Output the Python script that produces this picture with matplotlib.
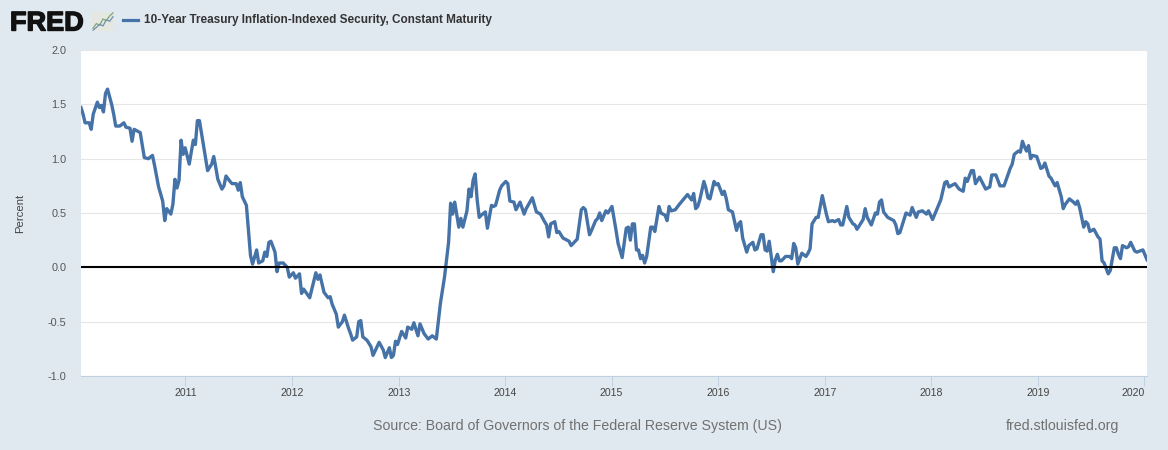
#!/usr/bin/env python3

import pandas as pd
import matplotlib.pyplot as plt
import matplotlib.patheffects as pe

plt.rcParams["font.family"] = ["Liberation Sans", "DejaVu Sans"]

# weeks since the first observation, percent at that week
weeks = [0, 1, 2, 4, 5, 6, 8, 9, 10, 11, 12, 13, 15, 16, 17, 19, 21, 22, 24, 25,
         26, 28, 29, 31, 33, 35, 36, 38, 40, 41, 42, 44, 45, 46, 47, 48, 49, 50, 51, 53,
         55, 56, 57, 58, 60, 61, 62, 64, 65, 66, 67, 69, 70, 71, 73, 74, 76, 77, 78, 79,
         81, 82, 83, 84, 86, 87, 89, 90, 91, 92, 93, 95, 96, 97, 99, 101, 102, 104, 105, 107,
         108, 109, 112, 115, 116, 117, 119, 121, 122, 123, 125, 126, 128, 129, 131, 132, 133, 135, 136, 137,
         138, 140, 142, 143, 146, 148, 149, 151, 152, 153, 154, 155, 157, 159, 160, 162, 163, 165, 166, 168,
         170, 172, 174, 176, 178, 179, 180, 181, 182, 183, 185, 186, 187, 189, 190, 191, 192, 193, 194, 195,
         196, 198, 199, 201, 202, 203, 205, 206, 208, 209, 210, 212, 213, 215, 217, 218, 221, 223, 225, 227,
         228, 229, 230, 232, 233, 234, 236, 239, 240, 243, 245, 246, 247, 249, 250, 252, 253, 254, 255, 257,
         258, 260, 262, 263, 265, 267, 268, 269, 270, 271, 272, 273, 274, 275, 276, 277, 279, 280, 281, 283,
         284, 286, 287, 288, 289, 291, 293, 297, 299, 300, 301, 302, 303, 305, 306, 307, 308, 310, 311, 312,
         314, 315, 316, 317, 319, 321, 322, 323, 324, 326, 327, 329, 330, 331, 333, 334, 335, 336, 337, 339,
         340, 341, 342, 343, 345, 347, 348, 349, 350, 351, 353, 355, 356, 357, 358, 360, 361, 363, 365, 366,
         368, 369, 371, 372, 373, 375, 376, 378, 379, 380, 383, 384, 385, 387, 389, 390, 391, 392, 393, 395,
         398, 399, 400, 401, 404, 406, 407, 409, 410, 412, 414, 415, 417, 421, 423, 424, 425, 428, 430, 432,
         433, 434, 436, 437, 438, 440, 443, 445, 446, 448, 450, 452, 455, 456, 457, 459, 460, 461, 462, 463,
         464, 465, 466, 468, 470, 471, 472, 474, 475, 477, 478, 480, 481, 482, 484, 486, 487, 488, 489, 491,
         492, 493, 494, 496, 498, 499, 500, 501, 503, 504, 506, 507, 508, 509, 510, 512, 513, 514, 516, 517,
         520, 522]
values = [1.47, 1.41, 1.33, 1.33, 1.27, 1.41, 1.52, 1.47, 1.49, 1.43, 1.60, 1.64, 1.50, 1.41, 1.30, 1.30, 1.33, 1.29, 1.28, 1.16,
          1.27, 1.25, 1.24, 1.01, 1.00, 1.03, 0.94, 0.74, 0.61, 0.43, 0.54, 0.49, 0.58, 0.81, 0.73, 0.80, 1.17, 1.04, 1.10, 0.95,
          1.17, 1.13, 1.35, 1.35, 1.12, 1.01, 0.89, 0.95, 1.02, 0.92, 0.81, 0.72, 0.75, 0.84, 0.79, 0.77, 0.77, 0.71, 0.78, 0.65,
          0.57, 0.34, 0.11, 0.03, 0.16, 0.04, 0.06, 0.14, 0.10, 0.23, 0.24, 0.14, -0.04, 0.04, 0.04, 0.00, -0.09, -0.05, -0.10, -0.06,
          -0.24, -0.20, -0.28, -0.05, -0.11, -0.07, -0.23, -0.28, -0.27, -0.34, -0.43, -0.55, -0.50, -0.44, -0.56, -0.61, -0.67, -0.64, -0.50, -0.49,
          -0.64, -0.67, -0.73, -0.81, -0.69, -0.76, -0.83, -0.74, -0.83, -0.81, -0.68, -0.71, -0.59, -0.65, -0.55, -0.57, -0.51, -0.63, -0.52, -0.61,
          -0.66, -0.63, -0.66, -0.33, -0.09, 0.07, 0.23, 0.59, 0.49, 0.60, 0.37, 0.45, 0.37, 0.52, 0.72, 0.65, 0.80, 0.86, 0.62, 0.46,
          0.48, 0.51, 0.36, 0.57, 0.56, 0.57, 0.71, 0.75, 0.79, 0.77, 0.61, 0.60, 0.53, 0.60, 0.49, 0.54, 0.64, 0.51, 0.49, 0.42,
          0.39, 0.28, 0.40, 0.42, 0.32, 0.33, 0.27, 0.24, 0.20, 0.26, 0.53, 0.55, 0.53, 0.30, 0.34, 0.43, 0.45, 0.50, 0.43, 0.52,
          0.50, 0.56, 0.34, 0.22, 0.09, 0.36, 0.37, 0.25, 0.40, 0.40, 0.16, 0.16, 0.08, 0.11, 0.04, 0.10, 0.37, 0.37, 0.33, 0.56,
          0.50, 0.48, 0.43, 0.56, 0.52, 0.53, 0.58, 0.67, 0.62, 0.68, 0.54, 0.56, 0.62, 0.79, 0.73, 0.64, 0.63, 0.79, 0.76, 0.77,
          0.67, 0.70, 0.63, 0.53, 0.51, 0.34, 0.40, 0.42, 0.27, 0.14, 0.20, 0.23, 0.16, 0.17, 0.30, 0.30, 0.16, 0.15, 0.24, -0.04,
          0.07, 0.12, 0.06, 0.06, 0.10, 0.10, 0.08, 0.22, 0.18, 0.03, 0.13, 0.10, 0.13, 0.17, 0.40, 0.46, 0.46, 0.66, 0.49, 0.42,
          0.43, 0.42, 0.44, 0.39, 0.39, 0.56, 0.46, 0.40, 0.39, 0.35, 0.44, 0.54, 0.46, 0.39, 0.50, 0.49, 0.60, 0.62, 0.51, 0.46,
          0.43, 0.39, 0.31, 0.32, 0.50, 0.48, 0.55, 0.46, 0.51, 0.52, 0.49, 0.52, 0.44, 0.62, 0.78, 0.79, 0.74, 0.77, 0.72, 0.70,
          0.82, 0.79, 0.89, 0.89, 0.77, 0.83, 0.72, 0.74, 0.85, 0.85, 0.75, 0.75, 0.91, 0.95, 1.04, 1.07, 1.06, 1.16, 1.11, 1.07,
          1.12, 1.00, 1.03, 1.02, 0.91, 0.92, 0.96, 0.84, 0.82, 0.75, 0.78, 0.65, 0.54, 0.58, 0.63, 0.60, 0.58, 0.61, 0.55, 0.37,
          0.42, 0.40, 0.33, 0.35, 0.28, 0.26, 0.06, 0.04, -0.06, -0.03, 0.18, 0.18, 0.12, 0.08, 0.20, 0.18, 0.19, 0.23, 0.15, 0.14,
          0.16, 0.07]

y_ticks = [-1.0, -0.5, 0.0, 0.5, 1.0, 1.5, 2.0]
x_years = [2011, 2012, 2013, 2014, 2015, 2016, 2017, 2018, 2019, 2020]
series_name = "10-Year Treasury Inflation-Indexed Security, Constant Maturity"
source_text = "Source: Board of Governors of the Federal Reserve System (US)"
site_text = "fred.stlouisfed.org"

# little chart in the logo
icon_x = [0, 1, 2, 3, 4, 5, 6]
icon_green = [1.0, 2.2, 1.8, 3.4, 3.0, 4.2, 5.0]
icon_blue = [0.5, 1.2, 2.0, 1.6, 3.2, 2.8, 4.0]

W, H = 1168, 450
BG = "#e1e9f0"
LINE = "#4572a7"

dates = pd.Timestamp("2010-01-08") + pd.to_timedelta(weeks, unit="W")

fig = plt.figure(figsize=(W / 100, H / 100), dpi=100, facecolor=BG)
ax = fig.add_axes([81 / W, 1 - 376 / H, (1147 - 81) / W, (376 - 50) / H])

ax.plot(dates, values, color=LINE, lw=2.4, zorder=3)
ax.axhline(0, color="black", lw=1.5, zorder=4)

ax.set_ylim(-1, 2)
ax.set_yticks(y_ticks)
ax.set_yticklabels([f"{v:.1f}" for v in y_ticks], fontsize=7.8, color="#555555")
ax.set_ylabel("Percent", fontsize=8.2, color="#444444")
ax.yaxis.set_label_coords((25 - 81) / (1147 - 81), 0.5)

ax.set_xlim(dates[0], dates[-1])
ax.set_xticks([pd.Timestamp(f"{y}-01-01") for y in x_years])
labels = ax.set_xticklabels([str(y) for y in x_years], fontsize=7.6, color="#444444")
labels[-1].set_ha("right")
labels[-1].set_x(pd.Timestamp("2020-01-15"))

ax.grid(axis="y", color="#e6e6e6", lw=0.8, zorder=0)
ax.tick_params(axis="y", length=0, pad=10.5)
ax.tick_params(axis="x", length=7, width=0.7, color="#c0d0e0", pad=1.5)
for name in ["top", "left", "right"]:
    ax.spines[name].set_visible(False)
ax.spines["bottom"].set_color("#c0d0e0")
ax.spines["bottom"].set_linewidth(0.8)

# header
logo = fig.text(10 / W, 1 - 30.5 / H, "FRED", fontsize=19.5, fontweight="bold", color="#111111",
                va="baseline", ha="left")
logo.set_path_effects([pe.withStroke(linewidth=1.0, foreground="#111111")])

icon = fig.add_axes([92 / W, 1 - 31 / H, 22 / W, 19 / H], facecolor="#e4e8e0")
icon.plot(icon_x, icon_green, color="#7fa67a", lw=0.9)
icon.plot(icon_x, icon_blue, color="#6f8fb0", lw=0.9)
icon.set_xticks([])
icon.set_yticks([])
for s in icon.spines.values():
    s.set_visible(False)

fig.add_artist(plt.Line2D([123 / W, 138 / W], [1 - 19.5 / H, 1 - 19.5 / H], color=LINE, lw=2.3))
fig.text(144 / W, 1 - 19.5 / H, series_name, fontsize=8.45, fontweight="bold", color="#333333",
         va="center", ha="left")

# footer
fig.text(373 / W, 1 - 426 / H, source_text, fontsize=10.2, color="#707070", va="center", ha="left")
fig.text(1119.5 / W, 1 - 426 / H, site_text, fontsize=10.2, color="#707070", va="center", ha="right")

fig.savefig("out.png", dpi=100, facecolor=BG)
plt.close(fig)
